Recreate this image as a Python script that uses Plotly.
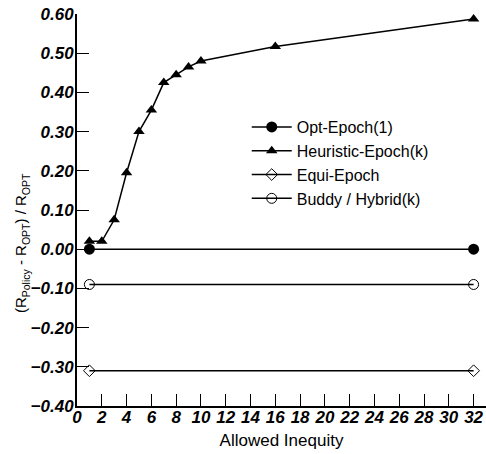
import plotly.graph_objects as go

x_heur = [1, 2, 3, 4, 5, 6, 7, 8, 9, 10, 16, 32]
y_heur = [0.02, 0.02, 0.075, 0.195, 0.30, 0.355, 0.425, 0.445, 0.465, 0.48, 0.517, 0.587]
x_flat = [1, 32]
y_opt = [0.0, 0.0]
y_equi = [-0.31, -0.31]
y_buddy = [-0.09, -0.09]

fig = go.Figure()
fig.add_trace(go.Scatter(x=x_flat, y=y_opt, mode="lines+markers", name="Opt-Epoch(1)",
                         line=dict(color="black", width=1.5),
                         marker=dict(symbol="circle", size=11, color="black")))
fig.add_trace(go.Scatter(x=x_heur, y=y_heur, mode="lines+markers", name="Heuristic-Epoch(k)",
                         line=dict(color="black", width=1.5),
                         marker=dict(symbol="triangle-up", size=10, color="black")))
fig.add_trace(go.Scatter(x=x_flat, y=y_equi, mode="lines+markers", name="Equi-Epoch",
                         line=dict(color="black", width=1.5),
                         marker=dict(symbol="diamond-open", size=9, color="black", line=dict(width=1))))
fig.add_trace(go.Scatter(x=x_flat, y=y_buddy, mode="lines+markers", name="Buddy / Hybrid(k)",
                         line=dict(color="black", width=1.5),
                         marker=dict(symbol="circle-open", size=10, color="black", line=dict(width=1))))

tickfont = dict(family="Liberation Sans, Arial, sans-serif", size=17, color="black", weight="bold", style="italic")

fig.update_layout(
    width=486, height=454,
    margin=dict(l=77, r=0, t=14, b=48),
    paper_bgcolor="white", plot_bgcolor="white",
    font=dict(family="Liberation Sans, Arial, sans-serif", size=14, color="black"),
    showlegend=True,
    legend=dict(x=0.415, y=0.755, xanchor="left", yanchor="top", itemwidth=40,
                font=dict(size=16), bgcolor="rgba(0,0,0,0)", tracegroupgap=0),
    xaxis=dict(range=[0, 33], tick0=0, dtick=2, showline=True, linecolor="black", linewidth=2,
               ticks="inside", ticklen=12, tickwidth=1, tickcolor="black",
               showgrid=False, zeroline=False, tickfont=tickfont, ticklabelstandoff=-5,
               title=dict(text="Allowed Inequity", font=dict(size=17), standoff=8)),
    yaxis=dict(range=[-0.4, 0.6], tick0=-0.4, dtick=0.1, tickformat=".2f",
               showline=True, linecolor="black", linewidth=2,
               ticks="inside", ticklen=12, tickwidth=1, tickcolor="black",
               showgrid=False, zeroline=False, tickfont=tickfont, ticklabelstandoff=-2),
    annotations=[dict(text="(R<sub>Policy</sub> - R<sub>OPT</sub>) / R<sub>OPT</sub>",
                      xref="paper", yref="paper", x=-0.135, y=0.415,
                      xanchor="center", yanchor="middle", textangle=-90,
                      showarrow=False, font=dict(size=15))],
)
fig.update_traces(cliponaxis=False)
fig.write_html("out.html", post_script="document.body.style.margin='0px';",
               config={"displayModeBar": False})
